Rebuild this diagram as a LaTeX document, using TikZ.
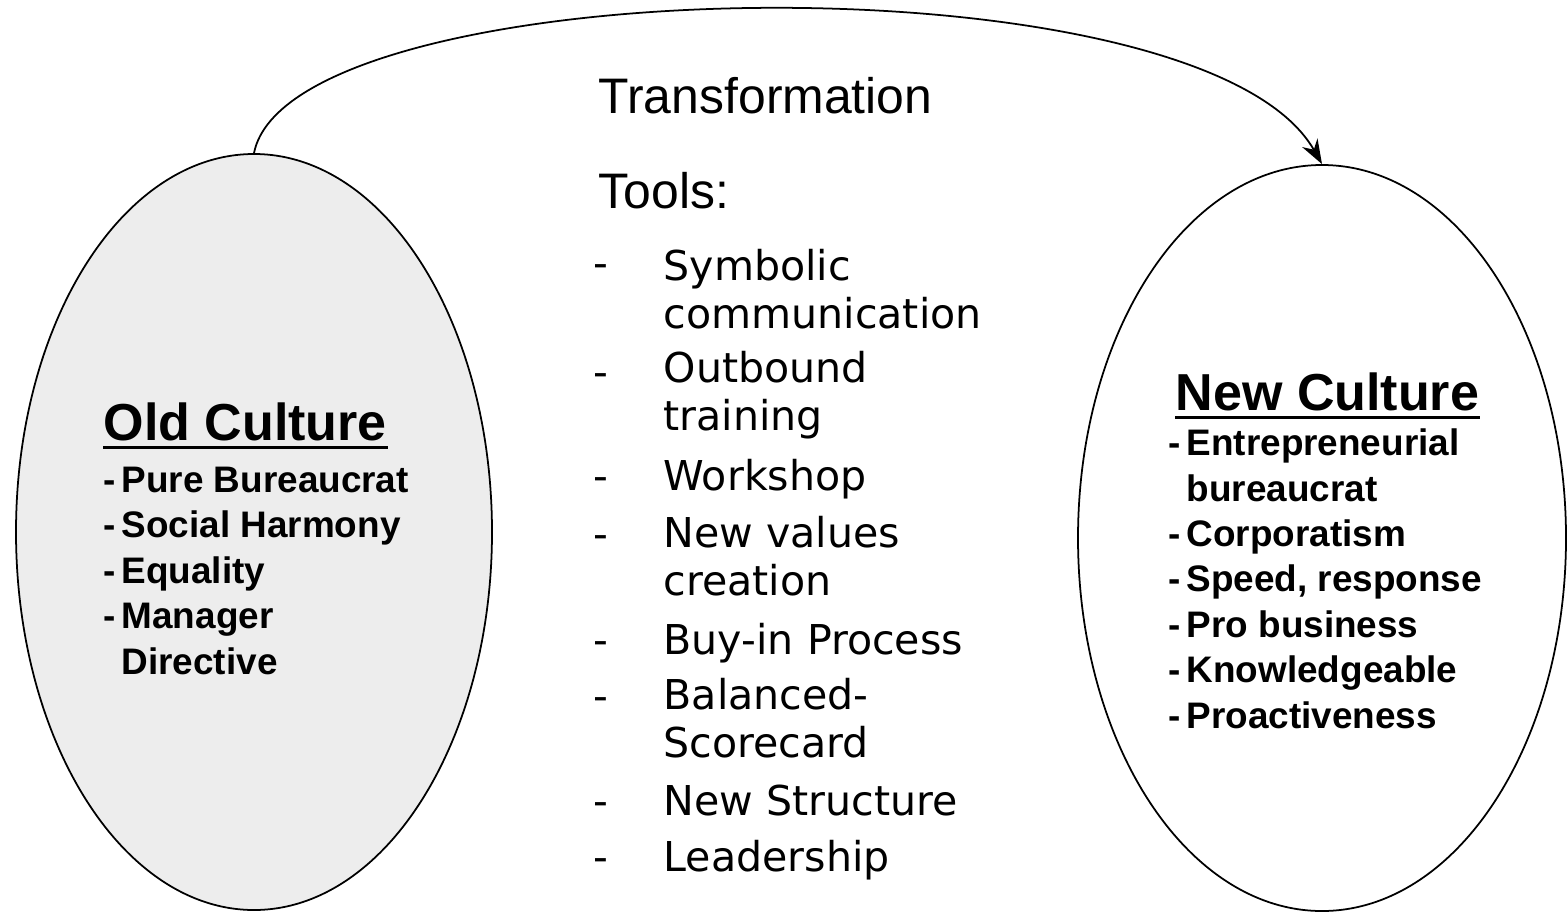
\documentclass[tikz,border=0pt]{standalone}
\usepackage{fontspec}
\setmainfont{Liberation Sans}
\newfontfamily\toolfont{DejaVu Sans}
\usetikzlibrary{shapes.geometric, arrows.meta, positioning}

% dash in front of each culture trait
\newcommand{\cultitem}[1]{\makebox[0.18cm][l]{-}#1}
\newcommand{\cultindent}{\hspace*{0.18cm}}

\begin{document}
\begin{tikzpicture}[
  culture/.style={draw, ellipse, line width=0.5pt, inner sep=0pt},
  ctitle/.style={anchor=base west, inner sep=0pt, font=\fontsize{14.8}{16}\selectfont\bfseries},
  clist/.style={anchor=base west, inner sep=0pt, align=left, font=\fontsize{10.5}{12.9}\selectfont\bfseries},
  uline/.style={line width=0.9pt},
  heading/.style={anchor=base west, inner sep=0pt, font=\fontsize{14.2}{16}\selectfont},
  toolitem/.style={anchor=base west, inner sep=0pt, align=left, font=\toolfont\fontsize{11.7}{13.4}\selectfont}
]
  \useasboundingbox (0,0) rectangle (15.68,9.14);

  % the two cultures
  \node[culture, fill=black!7, minimum width=4.76cm, minimum height=7.56cm] (old) at (2.54,3.82) {};
  \node[culture, minimum width=4.88cm, minimum height=7.46cm] (new) at (13.22,3.76) {};

  \draw[-{Stealth[length=7pt,width=5pt]}, line width=0.5pt]
    (old.north) .. controls (2.90,9.44) and (12.00,9.64) .. (new.north);

  % old culture (multi-line nodes sit on their last baseline)
  \node[ctitle] (oldt) at (1.03,4.74) {Old Culture};
  \draw[uline] ([yshift=-2.2pt]oldt.base west) -- ([yshift=-2.2pt]oldt.base east);
  \node[clist] (oldl) at (1.03,2.40) {\cultitem{Pure Bureaucrat}\\ \cultitem{Social Harmony}\\
    \cultitem{Equality}\\ \cultitem{Manager}\\ \cultindent Directive};

  % new culture
  \node[ctitle] (newt) at (11.75,5.04) {New Culture};
  \draw[uline] ([yshift=-2.2pt]newt.base west) -- ([yshift=-2.2pt]newt.base east);
  \node[clist] (newl) at (11.68,1.86) {\cultitem{Entrepreneurial}\\ \cultindent bureaucrat\\
    \cultitem{Corporatism}\\ \cultitem{Speed, response}\\ \cultitem{Pro business}\\
    \cultitem{Knowledgeable}\\ \cultitem{Proactiveness}};

  % transformation tools: name / last baseline / dash baseline / text
  \node[heading] (trans) at (5.98,8.01) {Transformation};
  \node[heading] (tools) at (5.98,7.06) {Tools:};
  \foreach \n/\y/\d/\txt in {sym/5.86/6.37/{Symbolic\\communication},
      out/4.84/5.28/{Outbound\\training}, work/4.24/4.24/Workshop,
      val/3.19/3.66/{New values\\creation}, buy/2.60/2.60/Buy-in Process,
      bsc/1.57/2.04/{Balanced-\\Scorecard}, str/0.99/0.99/New Structure,
      lead/0.43/0.43/Leadership}{
    \node[toolitem] (\n) at (6.63,\y) {\txt};
    \node[toolitem] (\n-dash) at (5.93,\d) {-};
  }
\end{tikzpicture}
\end{document}
